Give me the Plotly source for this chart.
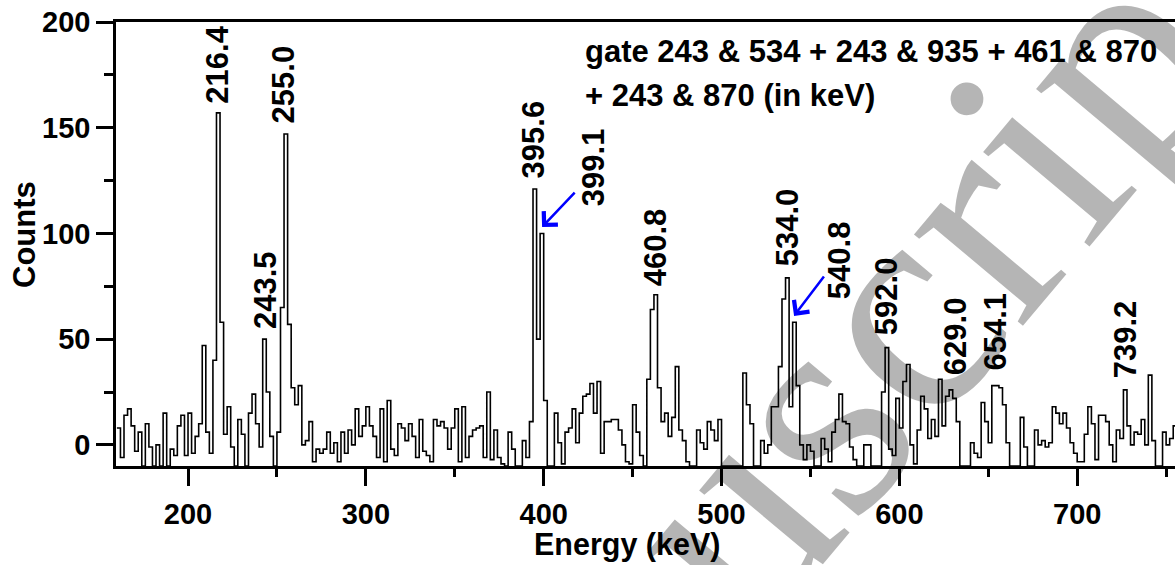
import numpy as np
import plotly.graph_objects as go

# Gated gamma-ray coincidence spectrum, 2 keV per channel
bin_start_kev = 160.0
bin_width_kev = 2.0
counts = [
    8, -6, 14, 17, 9, -3, 6, -10, 10, -1,          # 160-178
    -10, 0, -10, 15, -10, -2, -5, 9, 14, -5,       # 180-198
    15, -4, 4, 10, 47, 6, -4, 40, 157, 58,         # 200-218
    5, 18, -1, -10, 12, 5, -10, 15, 24, 10,        # 220-238
    -1, 50, 25, 4, -10, 6, 65, 147, 57, 27,        # 240-258
    19, 28, 0, 2, 11, -8, -2, -4, -2, 6,           # 260-278
    -4, 1, -8, 6, -4, 7, 0, 17, 4, 9,              # 280-298
    18, 9, 4, -6, 17, -8, 21, -2, -5, 10,          # 300-318
    8, 2, 10, 4, -6, 12, -3, -5, -8, 12,           # 320-338
    9, 11, 8, -2, 8, 17, -8, 18, -6, 4,            # 340-358
    7, 8, 9, -6, 25, -7, 7, -6, -9, -10,           # 360-378
    6, -2, -10, -10, 2, -6, 11, 121, 50, 100,      # 380-398
    21, -10, -10, 15, 1, -9, 6, 8, 17, 1,          # 400-418
    15, 23, 24, 29, 15, 30, -4, 11, 11, 12,        # 420-438
    12, 7, 0, -8, -9, 19, 6, -5, -10, 31,          # 440-458
    64, 71, 27, 11, 15, 4, 13, 37, 7, 2,           # 460-478
    -8, -10, -10, 7, 1, -2, 11, 7, 2, 12,          # 480-498
    -10, -10, -10, -10, -10, -10, 34, 19, 10, -10, # 500-518
    -10, 2, -4, 0, 18, 18, 37, 69, 79, 18,         # 520-538
    58, 28, 0, -7, 0, -3, -10, -10, 3, -2,         # 540-558
    -8, 6, 12, 24, 11, 10, -1, -7, -10, -10,       # 560-578
    0, 0, -10, -10, -10, 25, 46, -2, -5, 22,       # 580-598
    8, 30, 38, 0, -9, 7, 23, 17, 3, 12,            # 600-618
    4, 31, 9, 23, 26, 22, 11, -10, -10, -10,       # 620-638
    1, -4, -6, 20, 11, 1, 28, 28, 27, 19,          # 640-658
    1, -10, -10, -10, 13, -1, -10, -10, 7, 0,      # 660-678
    2, -1, 1, 18, 15, 10, 15, 8, 1, -4,            # 680-698
    -8, -8, 5, 18, 10, -7, 14, 14, 11, 0,          # 700-718
    -8, 7, 3, 26, 9, 0, 6, 5, 12, 0,               # 720-738
    33, 2, -10, -10, 6, 0, 3, 9,                   # 740-754
]

# Peak energies written above the spectrum (keV)
peak_labels = ["216.4", "243.5", "255.0", "395.6", "399.1", "460.8",
               "534.0", "540.8", "592.0", "629.0", "654.1", "739.2"]
peak_energies = [216.4, 243.5, 255.0, 395.6, 399.1, 460.8,
                 534.0, 540.8, 592.0, 629.0, 654.1, 739.2]

gate_lines = ["gate 243 & 534 + 243 & 935 + 461 & 870",
              "+ 243 & 870 (in keV)"]

# Placement of each energy label: (label bottom in counts, horizontal shift in px)
label_place = [(160.5, 0), (54, 0), (151, -2), (125, -2), (112, 51), (74, 4),
               (83.5, 5), (68, 45), (51, 1), (32, 4), (34, 0), (30.5, -22)]
# Doublet members marked with an arrow: (label, arrow tail offset px)
arrowed = {"399.1": (34, -36), "540.8": (31, -41)}

FONT = "Liberation Sans"
BLUE = "#0000ff"

counts_arr = np.array(counts, dtype=float)
edges = bin_start_kev + bin_width_kev * np.arange(len(counts_arr) + 1)
step_y = np.append(counts_arr, counts_arr[-1])

fig = go.Figure()
fig.add_trace(go.Scatter(
    x=edges, y=step_y, mode="lines", line=dict(color="black", width=1.6, shape="hv"),
    hoverinfo="skip", showlegend=False,
))

annotations = []

# Faint diagonal watermark lettering behind the spectrum
annotations.append(dict(
    text="manuscript", xref="paper", yref="paper", x=0.621, y=0.012,
    xanchor="center", yanchor="middle", textangle=-50, showarrow=False,
    font=dict(family="Liberation Serif", size=310, color="rgba(0,0,0,0.29)"),
))

for text, energy, (ybot, shift) in zip(peak_labels, peak_energies, label_place):
    annotations.append(dict(
        text=text, x=energy, y=ybot, xref="x", yref="y", xshift=shift,
        xanchor="center", yanchor="bottom", textangle=-90, showarrow=False,
        font=dict(family=FONT, size=31, color="black", weight="bold"),
    ))
    if text in arrowed:
        # peak height of the channel holding this energy
        idx = int((energy - bin_start_kev) // bin_width_kev)
        peak = counts_arr[idx:idx + 2].max()
        ax, ay = arrowed[text]
        annotations.append(dict(
            text="", x=energy, y=peak + 3, xref="x", yref="y",
            showarrow=True, ax=ax, ay=ay, arrowhead=4, arrowsize=1.5,
            arrowwidth=2.5, arrowcolor=BLUE, standoff=0,
        ))

# Gate description in the upper right
for i, line in enumerate(gate_lines):
    annotations.append(dict(
        text=line, xref="paper", yref="paper", x=(583 - 116) / 1059,
        y=1 - (52 + 43 * i - 22) / 444, xanchor="left", yanchor="middle",
        showarrow=False, font=dict(family=FONT, size=31, color="black", weight="bold"),
    ))

# Axis titles
annotations.append(dict(
    text="Energy (keV)", xref="paper", yref="paper", x=(627 - 116) / 1059,
    y=-(544 - 466) / 444, xanchor="center", yanchor="middle", showarrow=False,
    font=dict(family=FONT, size=30.5, color="black", weight="bold"),
))
annotations.append(dict(
    text="Counts", xref="paper", yref="paper", x=-(116 - 24) / 1059,
    y=(466 - 235) / 444, xanchor="center", yanchor="middle", textangle=-90,
    showarrow=False, font=dict(family=FONT, size=31, color="black", weight="bold"),
))

axis_common = dict(
    showline=True, linecolor="black", linewidth=2.5, ticks="outside",
    ticklen=17, tickwidth=2.5, tickcolor="black", showgrid=False, zeroline=False,
    tickfont=dict(family=FONT, size=29, color="black", weight="bold"),
)

fig.update_layout(
    width=1175, height=565, margin=dict(l=116, r=0, t=22, b=99),
    plot_bgcolor="white", paper_bgcolor="white", showlegend=False,
    annotations=annotations,
    xaxis=dict(
        range=[159.5, 755], tick0=0, dtick=100, mirror=True, ticklabelstandoff=3,
        minor=dict(ticks="outside", ticklen=8, tickwidth=2.5, tickcolor="black",
                   tick0=0, dtick=50, showgrid=False),
        **axis_common,
    ),
    yaxis=dict(
        range=[-10, 200], tick0=0, dtick=50, ticklabelstandoff=0,
        minor=dict(ticks="outside", ticklen=9, tickwidth=2.5, tickcolor="black",
                   tick0=0, dtick=25, showgrid=False),
        **axis_common,
    ),
)

fig.write_html("out.html")
